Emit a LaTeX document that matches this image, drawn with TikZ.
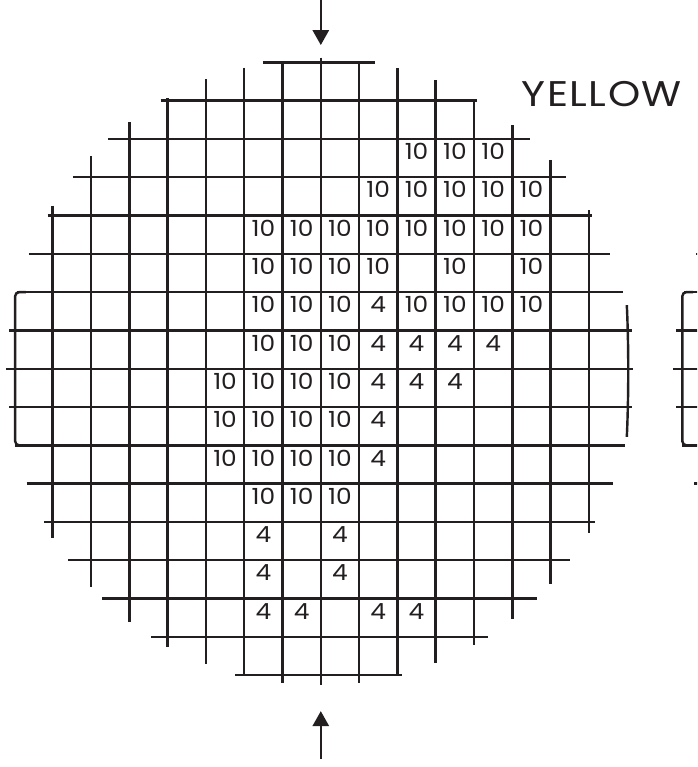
\documentclass[tikz,border=0pt]{standalone}
\usepackage{fontspec}
\setmainfont{Poppins}
\newfontfamily\tagfont{Poppins}[LetterSpace=4, FakeStretch=1.15]
\newfontfamily\numfont{Poppins}[FakeStretch=1.12]
\usetikzlibrary{arrows.meta}
\definecolor{Ink}{HTML}{231F20}
\tikzset{
  gline/.style={draw=Ink, line width=1.8pt},
  num/.style={
    anchor=base, inner sep=0pt, text=Ink,
    font=\numfont\fontsize{16.5}{16.5}\selectfont,
  },
  arr/.style={
    -{Triangle[length=3.9mm,width=4.2mm]},
    line width=1.8pt, draw=Ink,
  },
  tag/.style={
    anchor=base west, inner sep=0pt, text=Ink,
    font=\tagfont\fontsize{26.5}{26.5}\selectfont,
  },
}
% grid of one wafer, centred at the origin, one cell = 1
\newcommand{\waferlines}{%
  % horizontal lines: height/left end/right end
  \foreach \v/\l/\r in {8/-1.51/1.42, 7/-4.18/4.08, 6/-5.56/5.46,
      5/-6.47/6.40, 4/-7.13/7.07, 3/-7.62/7.55, 2/-7.94/7.89,
      1/-8.14/8.12, 0/-8.22/8.15, -1/-8.14/8.12, -2/-7.98/7.94,
      -3/-7.68/7.63, -4/-7.22/7.16, -5/-6.59/6.51, -6/-5.70/5.64,
      -7/-4.43/4.37, -8/-2.24/2.11}
    \draw[gline] (\l,\v) -- (\r,\v);
  % vertical lines: column/top end/bottom end
  \foreach \u/\t/\b in {-7/4.26/-4.43, -6/5.56/-5.69, -5/6.43/-6.61,
      -4/7.06/-7.26, -3/7.56/-7.71, -2/7.86/-8, -1/8.04/-8.21,
      0/8.12/-8.26, 1/8.02/-8.20, 2/7.84/-8, 3/7.54/-7.69,
      4/7.02/-7.21, 5/6.36/-6.54, 6/5.45/-5.62, 7/4.14/-4.30}
    \draw[gline] (\u,\t) -- (\u,\b);
  % flat edges
  \draw[gline, rounded corners=3pt] (-7.7,2) -- (-7.98,2) -- (-7.98,-2) -- (-7.7,-2);
  \draw[gline] (7.99,1.66) .. controls (8.04,0.6) and (8.04,-0.7) .. (7.99,-1.78);
}

\begin{document}
\begin{tikzpicture}[x=1cm,y=1cm]
  \useasboundingbox (-8.376,-10.399) rectangle (9.823,9.627);
  \clip (-8.376,-10.399) rectangle (9.823,9.627);

  \waferlines
  \begin{scope}[xshift=17.42cm]
    \waferlines
  \end{scope}

  % cell values: row/columns/value
  \foreach \rw/\cols/\val in {2/{9,10,11}/10, 3/{8,...,12}/10,
      4/{5,...,12}/10, 5/{5,6,7,8,10,12}/10,
      6/{5,6,7,9,10,11,12}/10, 6/{8}/4,
      7/{5,6,7}/10, 7/{8,...,11}/4,
      8/{4,...,7}/10, 8/{8,9,10}/4,
      9/{4,...,7}/10, 9/{8}/4,
      10/{4,...,7}/10, 10/{8}/4,
      11/{5,6,7}/10, 12/{5,7}/4, 13/{5,7}/4, 14/{5,6,8,9}/4}
    \foreach \c in \cols
      \node[num] (n-\rw-\c) at (\c-6.5, 7.46-\rw) {\val};

  \node[tag] (colour) at (5.245,6.84) {YELLOW};

  \coordinate (topin)  at (0,9.63);
  \coordinate (toptip) at (0,8.45);
  \coordinate (botin)  at (0,-10.19);
  \coordinate (bottip) at (0,-8.94);
  \draw[arr] (topin) -- (toptip);
  \draw[arr] (botin) -- (bottip);
\end{tikzpicture}
\end{document}
